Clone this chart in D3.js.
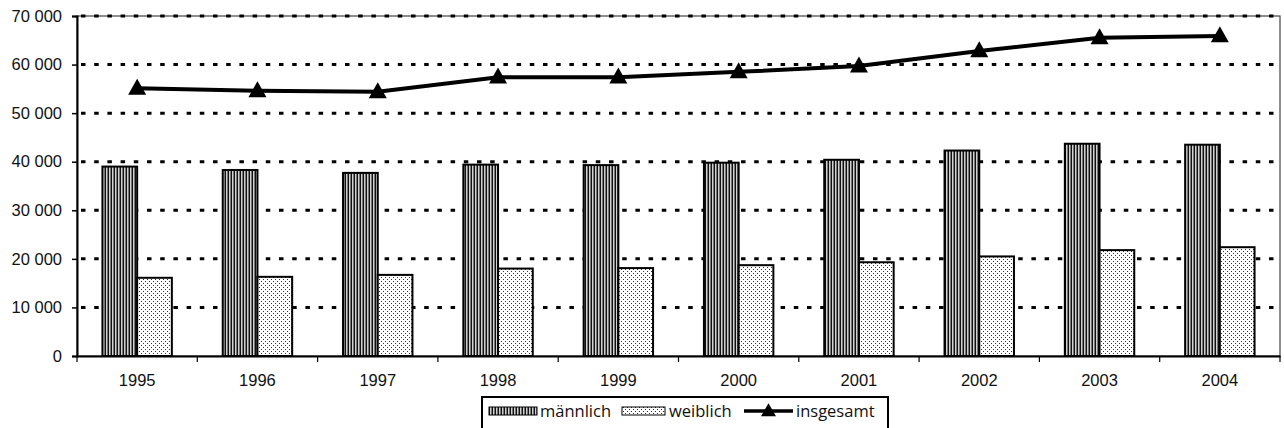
<!DOCTYPE html>
<html><head><meta charset="utf-8">
<script src="https://cdn.jsdelivr.net/npm/d3@7"></script>
<style>
html,body{margin:0;padding:0;background:#fff;}
svg{display:block;font-family:"Open Sans","Noto Sans",sans-serif;}
</style></head>
<body>
<svg id="chart" width="1284" height="428"></svg>
<script>
const years = ["1995","1996","1997","1998","1999","2000","2001","2002","2003","2004"];
const maennlich = [39000,38300,37700,39400,39300,39800,40400,42300,43700,43500];
const weiblich  = [16100,16300,16700,18000,18100,18700,19300,20500,21800,22400];
const insgesamt = [55100,54600,54400,57400,57400,58500,59700,62800,65500,65900];
const yTicks = [0,10000,20000,30000,40000,50000,60000,70000];
const seriesNames = ["männlich","weiblich","insgesamt"];

const svg = d3.select("#chart");
const L = 77, R = 1280, T = 16, B = 356;
const FS = 16.5;

const defs = svg.append("defs");
const pm = defs.append("pattern").attr("id","pm").attr("patternUnits","userSpaceOnUse")
  .attr("width",3).attr("height",4);
pm.append("rect").attr("width",3).attr("height",4).attr("fill","#d0d0d0");
pm.append("rect").attr("x",0).attr("width",1).attr("height",4).attr("fill","#111");
pm.append("rect").attr("x",2).attr("width",1).attr("height",4).attr("fill","#777");
const pw = defs.append("pattern").attr("id","pw").attr("patternUnits","userSpaceOnUse")
  .attr("width",4).attr("height",4);
pw.append("rect").attr("width",4).attr("height",4).attr("fill","#fff");
pw.append("rect").attr("x",1).attr("y",1).attr("width",1).attr("height",1).attr("fill","#333");
pw.append("rect").attr("x",3).attr("y",3).attr("width",1).attr("height",1).attr("fill","#333");

const x = d3.scaleBand().domain(years).range([L,R]).paddingInner(0).paddingOuter(0);
const x1 = d3.scaleBand().domain(["m","w"]).range([0,x.bandwidth()]).paddingInner(0).paddingOuter(0.733);
const y = d3.scaleLinear().domain([0,70000]).range([B,T]);
const fmt = d3.formatLocale({decimal:",",thousands:" ",grouping:[3],currency:["","€"]}).format(",d");

// frame
svg.append("rect").attr("x",L).attr("y",T).attr("width",R-L).attr("height",B-T)
  .attr("fill","none").attr("stroke","#444").attr("stroke-width",1.2);

// gridlines
svg.append("g").selectAll("line").data(yTicks.filter(d=>d>0)).join("line")
  .attr("x1",L+4).attr("x2",R).attr("y1",d=>y(d)).attr("y2",d=>y(d))
  .attr("stroke","#000").attr("stroke-width",3).attr("stroke-dasharray","4.5,8.7");

// bars
const g = svg.append("g");
years.forEach((yr,i)=>{
  g.append("rect").attr("x",x(yr)+x1("m")).attr("y",y(maennlich[i]))
    .attr("width",x1.bandwidth()).attr("height",B-y(maennlich[i]))
    .attr("fill","url(#pm)").attr("stroke","#000").attr("stroke-width",2);
  g.append("rect").attr("x",x(yr)+x1("w")).attr("y",y(weiblich[i]))
    .attr("width",x1.bandwidth()).attr("height",B-y(weiblich[i]))
    .attr("fill","url(#pw)").attr("stroke","#000").attr("stroke-width",2);
});

// y axis
const yAxis = svg.append("g").attr("transform",`translate(${L},0)`)
  .call(d3.axisLeft(y).tickValues(yTicks).tickFormat(fmt).tickSize(5).tickPadding(10));
yAxis.select(".domain").attr("stroke","#000").attr("stroke-width",2);
yAxis.selectAll(".tick line").attr("stroke","#000").attr("stroke-width",1.5);
yAxis.selectAll("text").attr("font-size",FS).attr("fill","#111");

// x axis
const xAxis = svg.append("g").attr("transform",`translate(0,${B})`)
  .call(d3.axisBottom(x).tickSize(0).tickPadding(18));
xAxis.select(".domain").attr("stroke","#000").attr("stroke-width",2);
xAxis.selectAll("text").attr("font-size",FS).attr("fill","#111");
const bounds = years.map(d=>x(d)).concat([R]);
svg.append("g").selectAll("line").data(bounds).join("line")
  .attr("x1",d=>d).attr("x2",d=>d).attr("y1",B).attr("y2",B+6)
  .attr("stroke","#000").attr("stroke-width",1.2);

// line
const cx = d=>x(d)+x.bandwidth()/2;
const line = d3.line().x((d,i)=>cx(years[i])).y(d=>y(d));
svg.append("path").datum(insgesamt).attr("d",line).attr("fill","none")
  .attr("stroke","#000").attr("stroke-width",4);
const tri = (w,h)=>`M0,${-h*0.6}L${w/2},${h*0.4}L${-w/2},${h*0.4}Z`;
svg.append("g").selectAll("path").data(insgesamt).join("path")
  .attr("transform",(d,i)=>`translate(${cx(years[i])},${y(d)})`)
  .attr("d",tri(18,16)).attr("fill","#000");

// legend
const lg = svg.append("g");
lg.append("rect").attr("x",482).attr("y",397).attr("width",406).attr("height",32)
  .attr("fill","#fff").attr("stroke","#000").attr("stroke-width",2);
lg.append("rect").attr("x",489).attr("y",407).attr("width",48).attr("height",8)
  .attr("fill","url(#pm)").attr("stroke","#000").attr("stroke-width",1);
lg.append("text").attr("x",540).attr("y",417).attr("font-size",FS).attr("fill","#111").text(seriesNames[0]);
lg.append("rect").attr("x",622).attr("y",407).attr("width",43).attr("height",8)
  .attr("fill","url(#pw)").attr("stroke","#000").attr("stroke-width",1);
lg.append("text").attr("x",669).attr("y",417).attr("font-size",FS).attr("fill","#111").text(seriesNames[1]);
lg.append("line").attr("x1",744).attr("x2",793).attr("y1",411).attr("y2",411)
  .attr("stroke","#000").attr("stroke-width",3.5);
lg.append("path").attr("transform","translate(768.5,411)").attr("d",tri(15,13)).attr("fill","#000");
lg.append("text").attr("x",796).attr("y",417).attr("font-size",FS).attr("fill","#111").text(seriesNames[2]);
</script>
</body></html>
